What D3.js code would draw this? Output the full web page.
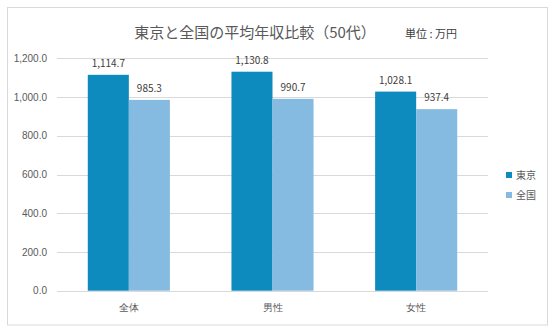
<!DOCTYPE html>
<html>
<head>
<meta charset="utf-8">
<script src="https://cdn.jsdelivr.net/npm/d3@7"></script>
<style>
  html, body { margin: 0; padding: 0; background: #fff; }
  svg { display: block; font-family: "Noto Sans CJK JP", "Noto Sans", sans-serif; }
</style>
</head>
<body>
<svg id="chart" width="558" height="333"></svg>
<script>
// Average annual income in their 50s: Tokyo vs. nationwide (unit: 10,000 yen)
const categories = ["全体", "男性", "女性"];
const seriesNames = ["東京", "全国"];
const tokyoValues = [1114.7, 1130.8, 1028.1];
const nationalValues = [985.3, 990.7, 937.4];
const yTicks = [0, 200, 400, 600, 800, 1000, 1200];
const titleText = "東京と全国の平均年収比較（50代）";
const unitText = "単位 : 万円";

const colors = ["#0E8BBE", "#86BBE1"];
const textColor = "#595959";
const gridColor = "#D9D9D9";

const svg = d3.select("#chart");

// Outer frame
svg.append("rect")
  .attr("x", 7.5).attr("y", 7.5)
  .attr("width", 540).attr("height", 317.5)
  .attr("fill", "#fff").attr("stroke", gridColor).attr("stroke-width", 1);

const plot = { left: 57, right: 488, top: 58.3, bottom: 290.7 };

const x0 = d3.scaleBand().domain(categories)
  .range([plot.left, plot.right]).paddingInner(0).paddingOuter(0);
const x1 = d3.scaleBand().domain(seriesNames)
  .range([0, x0.bandwidth()]).paddingInner(0).paddingOuter(0.75);
const y = d3.scaleLinear().domain([0, 1200]).range([plot.bottom, plot.top]);

const fmt = d3.format(",.1f");

// Gridlines
svg.append("g").selectAll("line").data(yTicks).join("line")
  .attr("x1", plot.left).attr("x2", plot.right)
  .attr("y1", d => Math.round(y(d)) + 0.5).attr("y2", d => Math.round(y(d)) + 0.5)
  .attr("stroke", gridColor).attr("stroke-width", 1);

// Y axis labels
const yAxis = d3.axisLeft(y).tickValues(yTicks).tickFormat(fmt).tickSize(0).tickPadding(10);
const yg = svg.append("g").attr("transform", `translate(${plot.left},0)`).call(yAxis);
yg.select(".domain").remove();
yg.selectAll("text").attr("fill", textColor).attr("font-size", 10);

// X axis labels
const xAxis = d3.axisBottom(x0).tickSize(0).tickPadding(13);
const xg = svg.append("g").attr("transform", `translate(0,${plot.bottom})`).call(xAxis);
xg.select(".domain").remove();
xg.selectAll("text").attr("fill", textColor).attr("font-size", 10);

// Bars
const rows = categories.map((c, i) => ({ category: c, values: [tokyoValues[i], nationalValues[i]] }));
const groups = svg.append("g").selectAll("g").data(rows).join("g")
  .attr("transform", d => `translate(${x0(d.category)},0)`);

groups.selectAll("rect")
  .data(d => d.values.map((v, j) => ({ series: seriesNames[j], value: v, j })))
  .join("rect")
  .attr("x", d => x1(d.series))
  .attr("y", d => y(d.value))
  .attr("width", x1.bandwidth())
  .attr("height", d => y(0) - y(d.value))
  .attr("fill", d => colors[d.j]);

groups.selectAll("text")
  .data(d => d.values.map((v, j) => ({ series: seriesNames[j], value: v })))
  .join("text")
  .attr("x", d => x1(d.series) + x1.bandwidth() / 2)
  .attr("y", d => y(d.value) - 8)
  .attr("text-anchor", "middle")
  .attr("fill", "#404040")
  .attr("font-size", 10)
  .text(d => fmt(d.value));

// Title and unit
svg.append("text")
  .attr("x", 255).attr("y", 38)
  .attr("text-anchor", "middle")
  .attr("fill", textColor).attr("font-size", 15)
  .text(titleText);
svg.append("text")
  .attr("x", 405).attr("y", 38)
  .attr("fill", "#404040").attr("font-size", 11)
  .text(unitText);

// Legend
const legend = svg.append("g").selectAll("g").data(seriesNames).join("g")
  .attr("transform", (d, i) => `translate(506,${172 + i * 20})`);
legend.append("rect").attr("width", 6).attr("height", 6).attr("fill", (d, i) => colors[i]);
legend.append("text").attr("x", 10).attr("y", 6.5)
  .attr("fill", textColor).attr("font-size", 10).text(d => d);
</script>
</body>
</html>
